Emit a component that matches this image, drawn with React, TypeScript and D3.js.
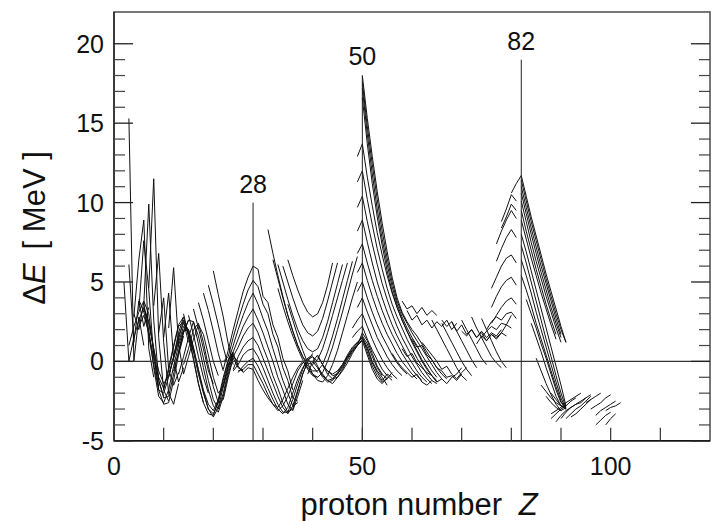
import React from 'react';
import * as d3 from 'd3';

// ---- axes / annotations ----
const xDomain = [0, 120];
const yDomain = [-5, 22];
const xTickValues = [10, 20, 30, 40, 50, 60, 70, 80, 90, 100, 110];
const xTickLabels = [0, 50, 100];
const yMajorTicks = [-5, 0, 5, 10, 15, 20];
const yMinorTicks = [-4, -3, -2, -1, 1, 2, 3, 4, 6, 7, 8, 9, 11, 12, 13, 14, 16, 17, 18, 19];
const magicNumbers = [28, 50, 82];
const magicLineTops = [10, 18, 19];
const magicLabelY = [10.6, 18.65, 19.6];

// ---- chains: [startZ, value at startZ, value at startZ+1, ...] ----
const lightSpikes = [
  [2, 5.0, 0.0, 1.5],
  [3, 15.3, 0.0, 2.8, 1.0],
  [3, 6.1, 1.2, 3.8, 2.2, 3.4],
  [4, 2.8, 6.4, 8.9, 0.8, -1.0],
  [5, 3.2, 7.6, 4.5, 0.3, -1.6],
  [6, 3.6, 9.9, 2.6, -1.2, -2.2],
  [7, 4.6, 11.5, 1.5, -1.8, -2.5],
  [8, 3.5, 6.8, 1.2, -2.0, -2.7, -1.4],
  [9, 1.8, 4.0, -0.5, -1.5, -0.7],
  [10, 1.5, 4.3, 0.2, -1.3, -0.4],
  [11, 2.1, 5.9, 1.1, -0.8, 0.3],
];

const lightMesh = [
  [3, 1.0, 2.2, 3.1, 3.8, 3.0, 0.5, -1.8, -2.7, -2.6, -1.2, 0.4, 1.6],
  [4, 1.5, 2.6, 3.4, 2.5, 0.8, -1.2, -2.3, -2.2, -0.8, 0.6, 1.9, 2.6],
  [4, 3.0, 2.0, 3.7, 1.6, -0.2, -1.8, -2.0, -1.0, 0.3, 1.8, 2.8],
  [5, 2.2, 2.9, 1.8, 0.2, -1.0, -1.7, -0.6, 0.9, 2.2, 2.5, 1.2],
  [6, 3.3, 2.4, 0.8, -0.6, -1.4, -0.9, 0.2, 1.4, 2.6, 1.9, 0.6],
  [5, 3.9, 3.1, 2.0, -0.4, -2.2, -2.6, -1.8, -0.3, 1.0, 2.0],
];

const midMesh = [
  [10, -1.8, -0.4, 1.0, 2.3, 2.8, 1.6, 0.2, -1.4, -2.6, -3.3, -3.4, -2.5, -1.2, 0.0, 0.6],
  [11, -1.0, 0.3, 1.6, 2.4, 2.0, 0.8, -0.6, -1.9, -3.0, -3.5, -2.9, -1.6, -0.2, 0.5],
  [12, -0.6, 0.6, 1.8, 2.6, 2.5, 1.1, -0.4, -1.8, -2.8, -3.2, -2.2, -0.8, 0.3, 0.0],
  [13, -0.8, 0.3, 1.5, 2.5, 1.6, 0.2, -1.2, -2.4, -3.0, -2.0, -0.6, 0.4, -0.2],
  [14, -0.2, 0.8, 2.0, 2.4, 1.2, -0.3, -1.6, -2.6, -2.4, -1.0, 0.2, -0.4, -0.6],
  [12, 0.2, 1.2, 2.2, 1.8, 0.6, -0.8, -2.0, -3.0, -3.3, -2.6, -1.4, -0.3, 0.4],
  [15, 0.3, 1.4, 2.3, 1.7, 0.4, -1.0, -2.0, -1.6, -0.4, 0.5, -0.3, -0.7],
  [13, 0.5, 1.9, 2.0, 0.9, -0.5, -1.8, -2.7, -3.1, -2.4, -1.0, 0.1, 0.6],
];

const descLines = [
  [20, 5.7, 4.2, 2.8, 1.1, -0.2],
  [19, 4.8, 3.6, 2.3, 0.9, -0.3],
  [18, 4.3, 3.2, 1.9, 0.5, -0.6],
  [17, 3.7, 2.6, 1.3, 0.0, -0.9],
  [16, 3.3, 2.1, 0.8, -0.6, -1.4],
  [15, 2.9, 1.7, 0.3, -1.0, -2.0],
  [14, 3.0, 1.6, 0.1, -1.4, -2.6],
];

const z28Chains = [
  [22, -0.5, 0.7, 2.0, 3.2, 4.4, 5.3, 6.0, 5.8, 4.1, 3.7, 2.3, 1.5, 0.2, -0.6, -1.8],
  [22, 0.0, 0.3, 1.5, 2.6, 3.6, 4.5, 5.1, 4.7, 3.6, 3.0, 1.7, 0.9, -0.4, -1.2, -2.3, -2.5],
  [23, 0.0, 1.0, 2.0, 2.9, 3.7, 4.3, 3.6, 2.7, 1.9, 0.8, -0.2, -1.2, -2.0, -2.8, -2.6],
  [23, -0.3, 0.6, 1.4, 2.2, 2.8, 3.3, 2.6, 1.8, 0.9, 0.0, -1.0, -1.8, -2.7, -3.1, -2.2, -1.2],
  [23, 0.2, 0.3, 0.9, 1.6, 2.1, 2.4, 1.8, 0.9, 0.1, -0.9, -1.7, -2.6, -3.2, -3.0, -1.9, -0.8, 0.0],
  [24, -0.5, 0.3, 0.9, 1.3, 1.5, 1.0, 0.2, -0.6, -1.4, -2.2, -2.9, -3.3, -2.8, -1.8, -0.8, 0.0, 0.5],
  [24, -0.6, -0.2, 0.4, 0.7, 0.8, 0.3, -0.4, -1.2, -2.0, -2.7, -3.2, -3.2, -2.4, -1.4, -0.5, 0.2, 0.4],
  [25, -0.7, -0.3, 0.0, 0.2, -0.3, -1.0, -1.7, -2.4, -3.0, -3.3, -2.9, -2.0, -1.1, -0.4, 0.1, 0.3, 0.0],
  [25, -0.6, -0.5, -0.2, -0.2, -0.8, -1.4, -2.1, -2.7, -3.1, -2.8, -2.2, -1.4, -0.6, -0.1, 0.2, -0.3, -0.7],
  [26, -0.7, -0.4, -0.5, -1.2, -1.8, -2.3, -2.7, -2.9, -2.4, -1.7, -1.0, -0.4, 0.0, -0.4, -0.8, -1.0],
];

const uChains = [
  [35, 6.4, 5.4, 4.5, 3.7, 3.1, 2.8, 3.0, 3.7, 4.8, 6.2],
  [34, 6.0, 5.0, 4.0, 3.1, 2.3, 1.8, 1.6, 1.9, 2.7, 3.8, 5.0, 6.2],
  [33, 6.1, 5.0, 3.9, 2.9, 2.0, 1.3, 0.8, 0.6, 0.8, 1.5, 2.5, 3.7, 4.9, 6.1],
  [32, 6.4, 5.2, 4.0, 2.9, 1.9, 1.0, 0.3, -0.1, -0.2, 0.1, 0.8, 1.8, 2.9, 4.0, 5.1, 6.2],
  [31, 8.3, 6.8, 5.4, 4.1, 2.9, 1.9, 1.0, 0.3, -0.3, -0.6, -0.6, -0.2, 0.6, 1.6, 2.7, 3.9, 5.1, 6.3],
  [33, 4.6, 3.5, 2.5, 1.6, 0.8, 0.1, -0.5, -0.9, -1.0, -0.7, 0.0, 0.9, 2.0, 3.1, 4.3, 5.5, 6.6],
  [35, 3.6, 2.6, 1.6, 0.7, -0.1, -0.8, -1.2, -1.3, -0.9, -0.2, 0.7, 1.8, 2.9, 4.0, 5.0],
];

const nearFiftyMesh = [
  [39, -0.8, 0.0, -0.4, -1.0, -1.3, -1.2, -0.8, -0.3, 0.3, 0.8, 1.2, 1.5, 0.6, -0.3, -0.9, -1.3, -1.1, -0.7],
  [40, 0.3, -0.3, -0.9, -1.2, -1.4, -1.0, -0.5, 0.1, 0.6, 1.0, 1.3, 0.4, -0.5, -1.1, -1.4, -1.0],
  [40, 0.0, 0.4, -0.2, -0.8, -1.1, -1.0, -0.6, -0.1, 0.5, 1.0, 1.4, 0.8, -0.1, -0.7, -1.2, -0.8, -1.0],
  [41, -0.4, -0.8, -1.2, -1.1, -0.7, -0.2, 0.4, 0.9, 1.2, 1.5, 0.9, 0.0, -0.6, -1.0, -1.5],
  [41, 0.3, -0.2, -0.6, -0.9, -0.8, -0.4, 0.2, 0.7, 1.1, 1.6, 1.1, 0.3, -0.4, -0.9],
  [42, -0.3, -0.6, -0.8, -0.6, -0.2, 0.3, 0.7, 1.0, 1.8, 1.3, 0.5, -0.3, -0.8, -1.1],
];

const fiftyChains = [
  [50, 18.0, 15.3, 12.9, 10.7, 8.7, 6.9, 5.3, 4.0, 3.1, 2.5, 2.0, 1.6, 1.1, 0.6, 0.1, -0.4, -0.8, -1.1],
  [50, 17.6, 14.8, 12.4, 10.2, 8.2, 6.5, 5.0, 3.8, 3.0, 2.4, 1.8, 1.3, 0.8, 0.3, -0.2, -0.7, -1.1],
  [50, 17.2, 14.3, 11.8, 9.6, 7.7, 6.1, 4.7, 3.6, 2.8, 2.1, 1.5, 1.0, 0.4, -0.1, -0.6, -1.0],
  [50, 16.6, 13.7, 11.2, 9.1, 7.3, 5.7, 4.4, 3.4, 2.6, 1.9, 1.2, 0.6, 0.0, -0.5, -0.9, -1.3],
  [49, 12.9, 13.7, 11.6, 9.8, 8.1, 6.7, 5.4, 4.3, 3.4, 2.6, 1.9, 1.3, 0.7, 0.1, -0.4, -0.9, -1.2],
  [49, 11.3, 12.0, 10.2, 8.6, 7.1, 5.8, 4.6, 3.6, 2.8, 2.1, 1.4, 0.8, 0.2, -0.3, -0.8, -1.2],
  [49, 9.7, 10.4, 8.8, 7.4, 6.1, 4.9, 3.9, 3.0, 2.2, 1.5, 0.9, 0.3, -0.2, -0.7, -1.1, -1.4],
  [49, 8.2, 8.9, 7.5, 6.2, 5.0, 4.0, 3.1, 2.3, 1.6, 1.0, 0.4, -0.1, -0.6, -1.0, -1.3],
  [49, 6.8, 7.4, 6.2, 5.1, 4.1, 3.2, 2.4, 1.7, 1.1, 0.5, 0.0, -0.5, -0.9, -1.2],
  [49, 5.6, 6.2, 5.1, 4.1, 3.2, 2.4, 1.7, 1.1, 0.5, 0.0, -0.4, -0.8, -1.1],
  [49, 4.4, 5.0, 4.0, 3.1, 2.3, 1.6, 1.0, 0.4, -0.1, -0.5, -0.8],
  [49, 3.4, 4.0, 3.1, 2.3, 1.5, 0.9, 0.3, -0.2, -0.6, -0.9],
  [48, 2.1, 2.6, 3.0, 2.2, 1.4, 0.7, 0.1, -0.4, -0.8, -1.1],
  [48, 1.5, 1.9, 2.2, 1.4, 0.7, 0.1, -0.5, -0.9, -1.2],
];

const tailChains = [
  [58, 3.8, 3.3, 3.5, 3.0, 3.4, 2.9, 3.2, 2.9],
  [59, 3.2, 2.6, 2.9, 2.3, 2.6, 2.1, 2.5, 2.2, 2.6, 2.0, 2.4],
  [66, 2.6, 2.2, 2.5, 1.9, 2.3, 1.7, 2.0, 1.5, 1.9, 1.5, 1.8, 1.6, 2.0],
  [70, 1.9, 1.6, 2.0, 1.5, 1.8, 1.3, 1.7, 1.4, 1.8, 2.3, 2.9],
  [64, 2.6, 2.0, 1.4, 0.8, 0.2, -0.4, -0.9, -1.2],
  [66, 2.4, 1.8, 1.2, 0.6, 0.0, -0.5, -0.9],
  [68, 2.5, 1.9, 1.3, 0.7, 0.1, -0.4],
  [70, 2.6, 2.0, 1.4, 0.8, 0.2, -0.2],
  [72, 2.8, 2.1, 1.5, 0.9, 0.3, -0.1, -0.4],
  [74, 2.7, 2.0, 1.3, 0.6, 0.0, -0.4],
  [58, 0.8, 0.3, 0.5, -0.1, -0.4, -0.7, -0.9, -1.3, -1.1, -1.4, -1.0, -0.8, -0.4],
  [60, 1.4, 0.9, 1.0, 0.4, 0.1, -0.4, -0.6, -1.0, -0.9, -1.2, -0.8],
  [62, 1.2, 0.8, 0.4, 0.0, -0.5, -0.3, -0.8, -1.1, -0.7, -0.4],
  [56, 0.5, 0.0, -0.4, -0.7, -1.0, -0.8, -1.3, -1.5, -1.2, -1.4],
];

const belowEightyTwo = [
  [80, 10.6, 11.2, 11.7],
  [78, 8.8, 9.6, 10.5, 10.1],
  [78, 8.4, 9.1, 9.9, 9.5],
  [77, 7.4, 8.2, 8.9, 9.5, 9.0],
  [77, 6.3, 7.1, 7.8, 8.3, 7.8],
  [76, 4.6, 5.3, 6.0, 6.5, 6.7, 6.2],
  [76, 3.4, 4.1, 4.7, 5.1, 5.3, 4.8],
  [76, 2.4, 2.9, 3.4, 3.8, 4.0, 3.6],
  [75, 2.0, 2.5, 2.8, 2.6, 3.0, 3.1, 2.7],
  [74, 1.5, 1.9, 2.2, 2.0, 2.4, 2.3, 2.1],
  [73, 1.1, 1.6, 1.3, 1.7, 1.5, 1.8, 1.6],
];

const aboveEightyTwoUpper = [
  [82, 11.7, 10.4, 9.1, 7.9, 6.7, 5.5, 4.4, 3.3, 2.2, 1.2],
  [82, 11.4, 10.1, 8.8, 7.6, 6.4, 5.2, 4.1, 3.0, 2.0, 1.2],
  [82, 11.0, 9.7, 8.4, 7.2, 6.0, 4.9, 3.8, 2.7, 1.7],
  [82, 10.6, 9.3, 8.0, 6.8, 5.6, 4.5, 3.4, 2.4, 1.5],
  [82, 10.1, 8.8, 7.5, 6.3, 5.2, 4.1, 3.1, 2.1, 1.2],
  [82, 9.5, 8.2, 7.0, 5.8, 4.7, 3.6, 2.6, 1.7],
  [82, 8.9, 7.7, 6.5, 5.4, 4.3, 3.3, 2.3, 1.4],
];

const aboveEightyTwoLower = [
  [82, 8.0, 6.9, 5.7, 4.5, 3.3, 2.1, 0.9, -0.3, -1.5, -2.8],
  [82, 7.3, 6.2, 5.0, 3.8, 2.6, 1.4, 0.3, -0.9, -2.0, -2.9],
  [82, 6.4, 5.4, 4.3, 3.1, 2.0, 0.9, -0.2, -1.3, -2.3, -3.0],
  [82, 5.4, 4.5, 3.5, 2.4, 1.4, 0.4, -0.6, -1.6, -2.5, -3.0],
  [83, 3.9, 3.0, 2.1, 1.1, 0.2, -0.8, -1.8, -2.6, -2.9],
  [84, 2.4, 1.5, 0.6, -0.4, -1.3, -2.2, -2.8, -3.0],
  [85, 0.2, -0.6, -1.4, -2.1, -2.7, -3.1],
];

const heavyCluster = [
  [88, -2.0, -2.4, -2.8, -3.0],
  [87, -2.2, -2.6, -2.9, -3.1, -2.9],
  [88, -3.3, -3.1, -2.9, -2.6, -2.4, -2.2, -2.0],
  [88, -3.6, -3.3, -3.0, -2.8, -2.5, -2.3],
  [89, -3.8, -3.4, -3.1, -2.9, -2.7, -2.5, -2.3, -2.1],
  [90, -3.6, -3.2, -2.9, -2.7, -2.6, -2.3],
  [91, -3.6, -3.3, -3.0, -2.8, -2.5, -2.2],
  [92, -3.5, -3.3, -3.0, -2.7, -2.4],
  [95, -2.6, -2.4, -2.2, -2.0],
  [96, -3.0, -2.8, -2.6, -2.3, -2.1],
  [97, -3.4, -3.1, -2.9, -2.7, -2.5],
  [97, -4.0, -3.7, -3.4, -3.2],
  [99, -4.0, -3.6, -3.3],
  [99, -3.1, -2.9, -2.8, -2.6],
  [86, -1.5, -1.9, -2.3, -2.6, -2.8, -2.9],
];

const allFamilies = [
  lightSpikes, lightMesh, midMesh, descLines, z28Chains, uChains, nearFiftyMesh,
  fiftyChains, tailChains, belowEightyTwo, aboveEightyTwoUpper, aboveEightyTwoLower, heavyCluster,
];

const FONT = '"Liberation Sans", Arial, Helvetica, sans-serif';

export default function App() {
  const L = 114, R = 710, T = 12, B = 440.8;
  const x = d3.scaleLinear().domain(xDomain).range([L, R]);
  const y = d3.scaleLinear().domain(yDomain).range([B, T]);
  const line = d3.line<[number, number]>().x(d => x(d[0])).y(d => y(d[1]));
  const toPts = (c: number[]) => c.slice(1).map((v, i) => [c[0] + i, v] as [number, number]);
  const paths: string[] = [];
  allFamilies.forEach(f => f.forEach(c => paths.push(line(toPts(c)) || '')));

  return (
    <svg width={711} height={521} style={{ position: 'absolute', left: 0, top: 0, background: '#fff' }}
      fontFamily={FONT}>
      <defs>
        <clipPath id="plot"><rect x={L} y={T} width={R - L} height={B - T} /></clipPath>
      </defs>
      <g clipPath="url(#plot)">
        {paths.map((d, i) => (
          <path key={i} d={d} fill="none" stroke="#111" strokeWidth={1} strokeLinejoin="round" />
        ))}
      </g>
      {/* zero line */}
      <line x1={L} x2={R} y1={y(0)} y2={y(0)} stroke="#333" strokeWidth={1.2} />
      {/* magic number lines */}
      {magicNumbers.map((m, i) => (
        <g key={m}>
          <line x1={x(m)} x2={x(m)} y1={y(magicLineTops[i])} y2={B} stroke="#222" strokeWidth={1} />
          <text x={x(m)} y={y(magicLabelY[i])} textAnchor="middle" fontSize={25} fill="#111">{m}</text>
        </g>
      ))}
      {/* frame */}
      <rect x={L} y={T} width={R - L} height={B - T} fill="none" stroke="#555" strokeWidth={1.6} />
      <line x1={L} x2={R} y1={B} y2={B} stroke="#111" strokeWidth={1.4} />
      <line x1={L} x2={L} y1={T} y2={B} stroke="#222" strokeWidth={1.4} />
      {/* y ticks */}
      {yMajorTicks.map(t => (
        <g key={'ym' + t}>
          <line x1={L} x2={L + 19} y1={y(t)} y2={y(t)} stroke="#222" strokeWidth={1.3} />
          <line x1={R - 19} x2={R} y1={y(t)} y2={y(t)} stroke="#222" strokeWidth={1.3} />
          <text x={104} y={y(t)} dy="0.36em" textAnchor="end" fontSize={25} fill="#111">{t}</text>
        </g>
      ))}
      {yMinorTicks.map(t => (
        <g key={'yn' + t}>
          <line x1={L} x2={L + 11} y1={y(t)} y2={y(t)} stroke="#444" strokeWidth={1.2} />
          <line x1={R - 11} x2={R} y1={y(t)} y2={y(t)} stroke="#444" strokeWidth={1.2} />
        </g>
      ))}
      {/* x ticks */}
      {xTickValues.map(t => (
        <line key={'xt' + t} x1={x(t)} x2={x(t)} y1={B} y2={B - 13} stroke="#333" strokeWidth={1.2} />
      ))}
      {xTickLabels.map(t => (
        <text key={'xl' + t} x={x(t)} y={475} textAnchor="middle" fontSize={25} fill="#111">{t}</text>
      ))}
      {/* axis titles */}
      <text x={419} y={515} textAnchor="middle" fontSize={31} fill="#111">
        proton number <tspan dx="8" fontStyle="italic">Z</tspan>
      </text>
      <text transform="translate(45,228) rotate(-90)" textAnchor="middle" fontSize={31} fill="#111">
        Δ<tspan fontStyle="italic">E</tspan><tspan dx="14">[ MeV ]</tspan>
      </text>
    </svg>
  );
}
